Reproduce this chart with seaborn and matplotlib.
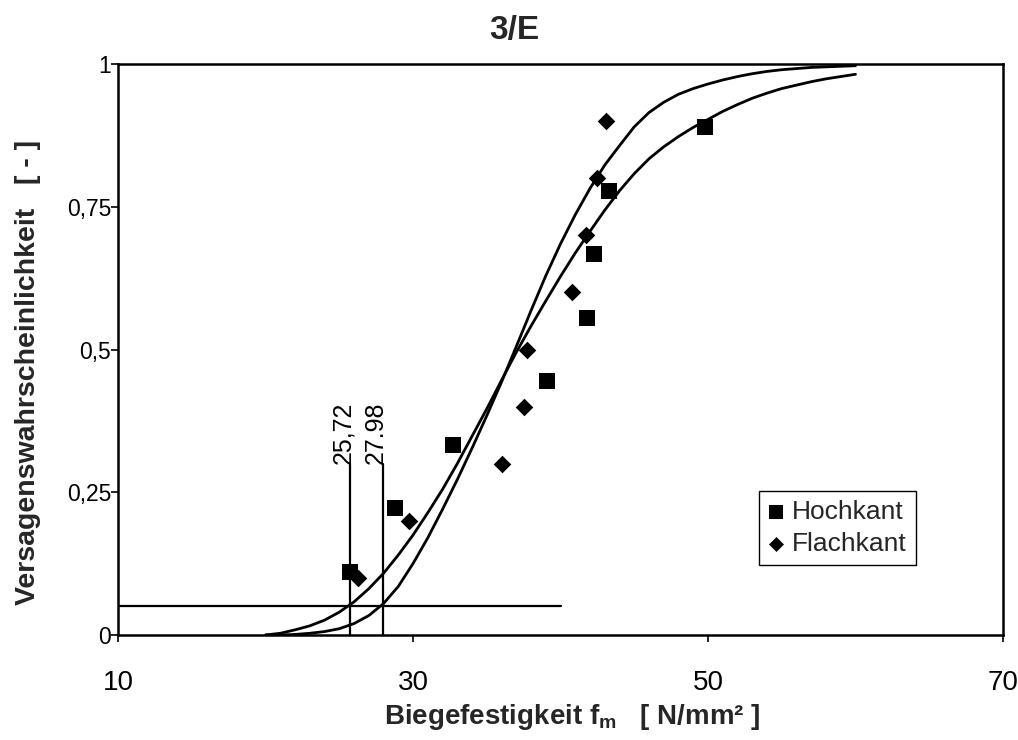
import numpy as np
import pandas as pd
import matplotlib
matplotlib.use("Agg")
import matplotlib.pyplot as plt
import seaborn as sns

# ---------------- data ----------------
hoch_x = [25.7, 28.8, 32.7, 39.1, 41.8, 42.3, 43.3, 49.8]
hoch_p = [0.111, 0.222, 0.333, 0.444, 0.556, 0.667, 0.778, 0.889]

flach_x = [26.3, 29.7, 36.0, 37.5, 37.7, 40.8, 41.7, 42.5, 43.1]
flach_p = [0.1, 0.2, 0.3, 0.4, 0.5, 0.6, 0.7, 0.8, 0.9]

curve_x = [20, 21, 22, 23, 24, 25, 26, 27, 28, 29, 30,
           31, 32, 33, 34, 35, 36, 37, 38, 39, 40,
           41, 42, 43, 44, 45, 46, 47, 48, 49, 50,
           51, 52, 53, 54, 55, 56, 57, 58, 59, 60]
hoch_curve = [0.000, 0.003, 0.009, 0.016, 0.026, 0.040, 0.058, 0.081, 0.108, 0.140, 0.175,
              0.214, 0.255, 0.300, 0.348, 0.396, 0.446, 0.495, 0.541, 0.585, 0.628,
              0.669, 0.707, 0.744, 0.778, 0.808, 0.834, 0.855, 0.873, 0.889, 0.903,
              0.917, 0.929, 0.940, 0.949, 0.957, 0.963, 0.969, 0.974, 0.978, 0.982]
flach_curve = [0.000, 0.000, 0.001, 0.003, 0.006, 0.011, 0.020, 0.034, 0.055, 0.085, 0.125,
               0.170, 0.220, 0.272, 0.327, 0.384, 0.443, 0.505, 0.568, 0.629, 0.685,
               0.736, 0.782, 0.823, 0.857, 0.890, 0.915, 0.933, 0.947, 0.957, 0.965,
               0.972, 0.978, 0.983, 0.987, 0.990, 0.992, 0.994, 0.995, 0.996, 0.997]

q5_values = [25.72, 27.98]
q5_labels = ["25,72", "27.98"]
q5_level = 0.05
q5_line_end = 40
q5_marker_top = 0.3

x_ticks = [10, 30, 50, 70]
y_ticks = [0, 0.25, 0.5, 0.75, 1]
y_tick_labels = ["0", "0,25", "0,5", "0,75", "1"]

# ---------------- styling ----------------
sns.set_theme(style="ticks")
plt.rcParams["font.family"] = ["Liberation Sans", "DejaVu Sans"]
plt.rcParams["mathtext.fontset"] = "custom"
plt.rcParams["mathtext.rm"] = "Liberation Sans"
plt.rcParams["mathtext.bf"] = "Liberation Sans:bold"

fig = plt.figure(figsize=(10.18, 7.40), dpi=100)
ax = fig.add_axes([118 / 1018, 1 - 635 / 740, (1003 - 118) / 1018, (635 - 64) / 740])
ax.set_facecolor("white")

curves = pd.DataFrame({
    "x": curve_x * 2,
    "p": hoch_curve + flach_curve,
    "fit": ["Hochkant"] * len(curve_x) + ["Flachkant"] * len(curve_x),
})
sns.lineplot(data=curves, x="x", y="p", units="fit", estimator=None,
             color="black", linewidth=2.0, ax=ax, legend=False, sort=True)

# 5 % fractile lines
ax.plot([10, q5_line_end], [q5_level, q5_level], color="black", linewidth=1.6)
for v, lab in zip(q5_values, q5_labels):
    ax.plot([v, v], [0, q5_marker_top], color="black", linewidth=1.6)
    ax.text(v, q5_marker_top, lab, rotation=90, rotation_mode="anchor",
            ha="left", va="baseline", fontsize=18, color="black")

pts_h = pd.DataFrame({"x": hoch_x, "p": hoch_p})
pts_f = pd.DataFrame({"x": flach_x, "p": flach_p})
sns.scatterplot(data=pts_h, x="x", y="p", marker="s", s=135, color="black",
                edgecolor="black", linewidth=0, ax=ax, label="Hochkant", zorder=5)
sns.scatterplot(data=pts_f, x="x", y="p", marker="D", s=80, color="black",
                edgecolor="black", linewidth=0, ax=ax, label="Flachkant", zorder=5)

ax.set_xlim(10, 70)
ax.set_ylim(0, 1)
ax.set_xticks(x_ticks)
ax.set_xticklabels([str(t) for t in x_ticks], fontsize=20)
ax.set_yticks(y_ticks)
ax.set_yticklabels(y_tick_labels, fontsize=16.5)
ax.tick_params(axis="both", direction="out", length=5, width=1.2, colors="black")
ax.tick_params(axis="x", pad=20)
ax.tick_params(axis="y", pad=0)

for sp in ax.spines.values():
    sp.set_visible(True)
    sp.set_color("black")
    sp.set_linewidth(1.8)

ax.set_xlabel(r"Biegefestigkeit f$_\mathbf{m}$   [ N/mm² ]", fontsize=20,
              fontweight="bold")
ax.xaxis.set_label_coords((572 - 118) / 885, -(717 - 635) / 571)
ax.xaxis.label.set_va("center")
ax.set_ylabel("Versagenswahrscheinlichkeit   [ - ]", fontsize=20.5,
              fontweight="bold")
ax.yaxis.set_label_coords(-(118 - 28) / 885, (635 - 372) / 571)
ax.yaxis.label.set_va("center")
fig.text(0.505, 1 - 30 / 740, "3/E", ha="center", va="center", fontsize=24,
         fontweight="bold")

leg = ax.legend(loc="upper left", bbox_to_anchor=(0.724, 0.252), frameon=True,
                fancybox=False, framealpha=1, edgecolor="black", fontsize=19,
                handlelength=0.6, handletextpad=0.3, borderpad=0.35,
                labelspacing=0.3, borderaxespad=0, markerscale=0.85)
leg.get_frame().set_linewidth(1.0)

fig.savefig("out.png", dpi=100, facecolor="white")
